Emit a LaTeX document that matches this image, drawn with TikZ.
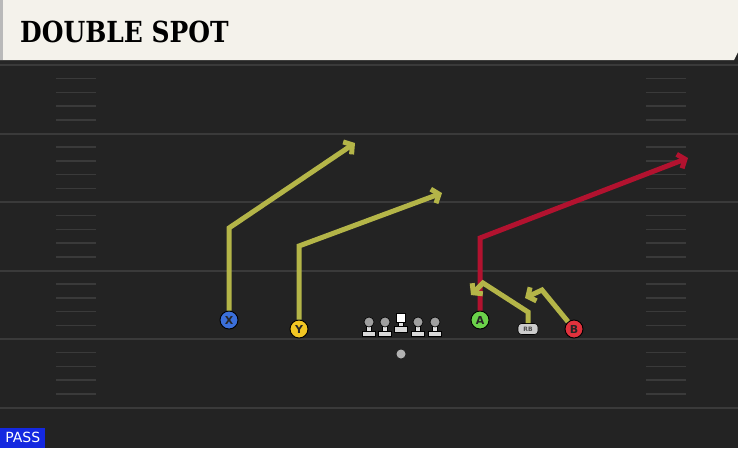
\documentclass[tikz,border=0pt]{standalone}
\usepackage{fontspec}
\usepackage{tikz}
\usetikzlibrary{arrows.meta,positioning}
\newfontfamily\titlefont{DejaVu Serif}
\setsansfont{DejaVu Sans}

\definecolor{field}{HTML}{232323}
\definecolor{header}{HTML}{F4F2EB}
\definecolor{yardline}{HTML}{3A3A3A}
\definecolor{routeyellow}{HTML}{B4B548}
\definecolor{routered}{HTML}{B2122F}
\definecolor{xblue}{HTML}{3B6FD9}
\definecolor{yyellow}{HTML}{F2C623}
\definecolor{agreen}{HTML}{6BD24A}
\definecolor{bred}{HTML}{E1323D}
\definecolor{passblue}{HTML}{1428E0}

\tikzset{
	player/.style={circle, draw=black, line width=.9pt, minimum size=18pt, inner sep=0pt,
		font=\sffamily\bfseries\fontsize{11}{11}\selectfont, text=black!85},
	route/.style={line width=5pt, draw=routeyellow, line join=miter,
		-{Straight Barb[length=6pt,width=15pt]}},
	head/.style={circle, draw=black, line width=.6pt, fill=gray!75, minimum size=10pt, inner sep=0pt},
	lineman/.pic={
		\fill[draw=black, line width=.6pt, fill=gray!25] (-2.5,3) rectangle (2.5,9);
		\fill[draw=black, line width=.6pt, fill=gray!30] (-6.5,9) rectangle (6.5,14);
		\node[head] (-h) at (0,0) {};
	}
}

\begin{document}
\begin{tikzpicture}[x=1pt, y=-1pt]
	\useasboundingbox (0,0) rectangle (738,448);
	\fill[field] (0,0) rectangle (738,448);
	\fill[black!85] (0,58) rectangle (738,64);
	\fill[header] (0,0) -- (738,0) -- (738,52) -- (734,60) -- (0,60) -- cycle;
	\fill[gray!55] (0,0) rectangle (3,60);
	\node[anchor=west, inner sep=0pt] (title) at (20,32)
		{\scalebox{0.86}[1]{\titlefont\bfseries\fontsize{29}{29}\selectfont DOUBLE SPOT}};

	\foreach \k in {0,...,5}
		\draw[yardline, line width=2pt] (0,65+68.5*\k) -- (738,65+68.5*\k);
	\foreach \k in {0,...,4}
		\foreach \j in {1,...,4} {
			\draw[yardline, line width=1.5pt] (56,65+68.5*\k+13.7*\j) -- (96,65+68.5*\k+13.7*\j);
			\draw[yardline, line width=1.5pt] (646,65+68.5*\k+13.7*\j) -- (686,65+68.5*\k+13.7*\j);
		}

	\pic (L1) at (369,322) {lineman};
	\pic (L2) at (385,322) {lineman};
	\pic (L4) at (418,322) {lineman};
	\pic (L5) at (435,322) {lineman};
	\fill[draw=black, line width=.6pt, fill=gray!25] (398.5,318) rectangle (403.5,326);
	\fill[draw=black, line width=.6pt, fill=gray!30] (394.5,326) rectangle (407.5,332);
	\node[draw=black, line width=.6pt, fill=white, minimum size=9pt, inner sep=0pt] (C) at (401,318) {};
	\node[circle, fill=gray!60, minimum size=9pt, inner sep=0pt] (QB) at (401,354) {};

	\node[player, fill=xblue]   (X) at (229,320) {X};
	\node[player, fill=yyellow] (Y) at (299,329) {Y};
	\node[player, fill=agreen]  (A) at (480,320) {A};
	\node[player, fill=bred]    (B) at (574,329) {B};
	\node[draw=black, line width=.6pt, fill=gray!40, rounded corners=3.5pt, minimum width=20pt,
		minimum height=11pt, inner sep=0pt, font=\sffamily\bfseries\fontsize{6}{6}\selectfont, text=black!70]
		(RB) at (528,329) {RB};

	\coordinate (x1) at (229,228);
	\coordinate (x2) at (355,143);
	\coordinate (y1) at (299,246);
	\coordinate (y2) at (442,193);
	\coordinate (a1) at (480,238);
	\coordinate (a2) at (688,158);
	\coordinate (r1) at (528,312);
	\coordinate (r2) at (483,283);
	\coordinate (r3) at (471,295);
	\coordinate (b1) at (542,290);
	\coordinate (b2) at (525,298);

	\draw[route] (X) -- (x1) -- (x2);
	\draw[route] (Y) -- (y1) -- (y2);
	\draw[route, draw=routered] (A) -- (a1) -- (a2);
	\draw[route] (RB) -- (r1) -- (r2) -- (r3);
	\draw[route] (B) -- (b1) -- (b2);

	\node[anchor=south west, fill=passblue, text=white, font=\sffamily\fontsize{14}{14}\selectfont,
		minimum width=45pt, minimum height=20pt, inner sep=2pt] (pass) at (0,448) {PASS};
\end{tikzpicture}
\end{document}
